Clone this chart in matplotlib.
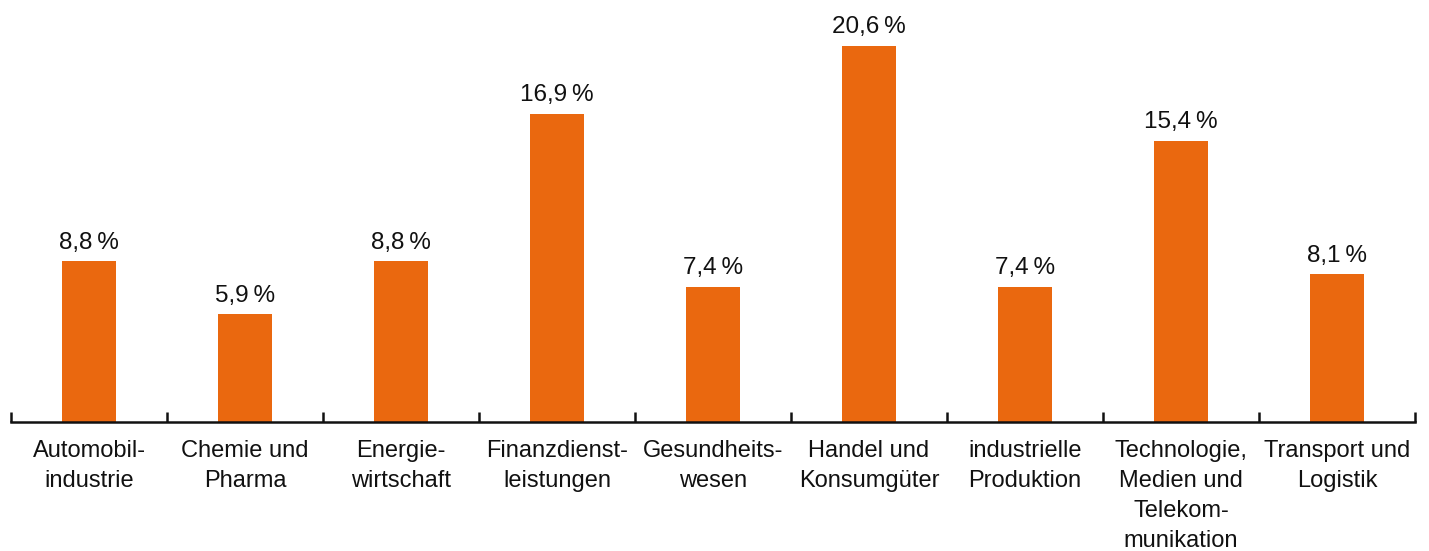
import matplotlib
matplotlib.use("Agg")
import matplotlib.pyplot as plt
import numpy as np

categories = ["Automobil-\nindustrie", "Chemie und\nPharma", "Energie-\nwirtschaft",
              "Finanzdienst-\nleistungen", "Gesundheits-\nwesen", "Handel und\nKonsumgüter",
              "industrielle\nProduktion", "Technologie,\nMedien und\nTelekom-\nmunikation",
              "Transport und\nLogistik"]
values = [8.8, 5.9, 8.8, 16.9, 7.4, 20.6, 7.4, 15.4, 8.1]

plt.rcParams['font.family'] = ['Liberation Sans', 'DejaVu Sans']

fig = plt.figure(figsize=(14.29, 5.51), dpi=100)
ax = fig.add_axes([11 / 1429, 129 / 551, 1404 / 1429, (422 - 20) / 551])

x = np.arange(len(values))
ax.bar(x, values, width=0.34, color="#EA680F", zorder=2)

for xi, v in zip(x, values):
    label = f"{v:.1f}".replace(".", ",") + "\u2009%"
    ax.annotate(label, (xi, v), xytext=(0, 5.5), textcoords="offset points",
                ha="center", va="bottom", fontsize=17.5, color="#111111")

ax.set_xlim(-0.5, len(values) - 0.5)
ax.set_ylim(0, 22.03)

for s in ["top", "left", "right"]:
    ax.spines[s].set_visible(False)
ax.spines["bottom"].set_linewidth(1.8)
ax.spines["bottom"].set_color("#111111")

ax.set_yticks([])
ax.set_xticks(x)
ax.set_xticklabels(categories, fontsize=17, color="#111111", linespacing=1.47)
ax.tick_params(axis="x", which="major", length=0, pad=13)
ax.set_xticks(np.arange(-0.5, len(values)), minor=True)
ax.tick_params(axis="x", which="minor", direction="in", length=7, width=1.8, color="#111111")

fig.savefig("out.png", dpi=100)
